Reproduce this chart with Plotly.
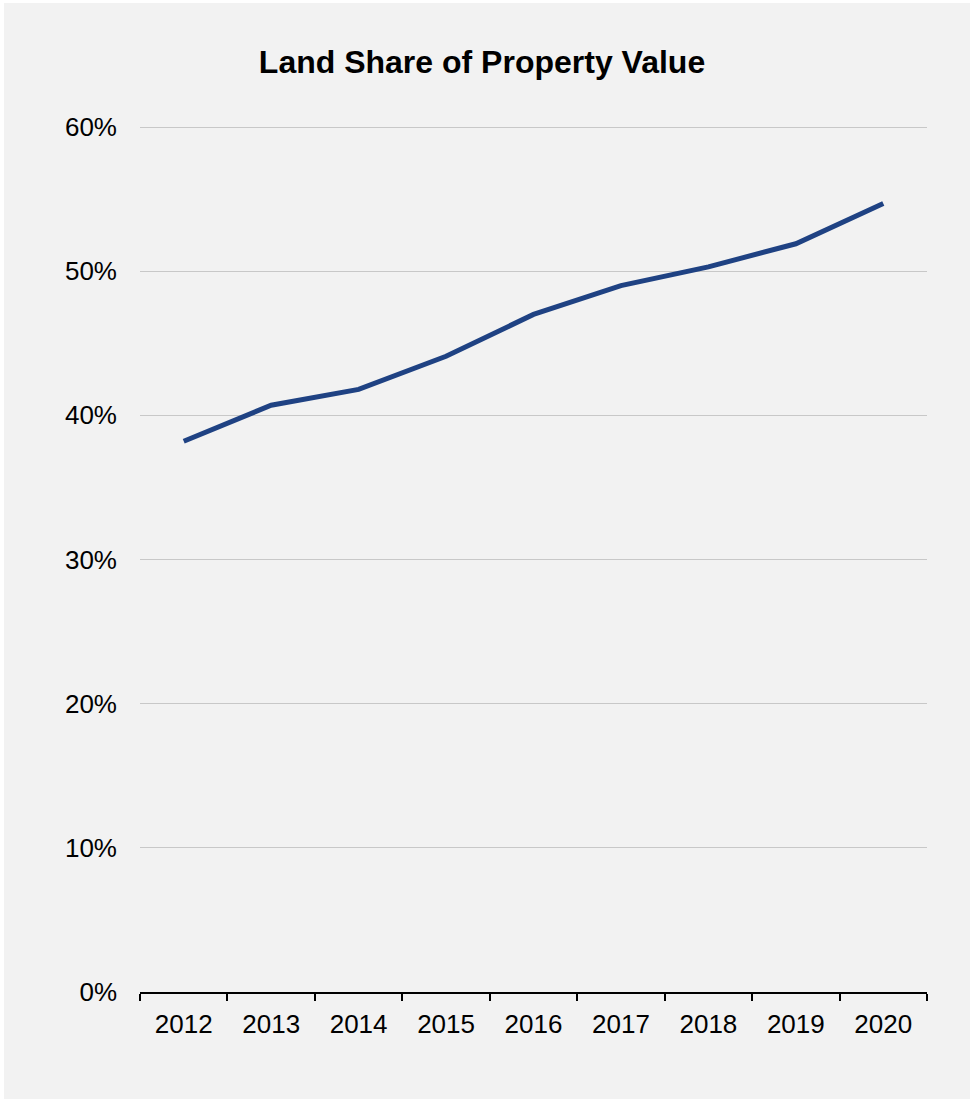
import plotly.graph_objects as go

# Land share of total property value by year
years = ["2012", "2013", "2014", "2015", "2016", "2017", "2018", "2019", "2020"]
land_share = [0.382, 0.407, 0.418, 0.441, 0.470, 0.490, 0.503, 0.519, 0.547]

y_ticks = [0, 0.1, 0.2, 0.3, 0.4, 0.5, 0.6]
y_max = 0.6

W, H = 974, 1102
ML, MR, MB = 140, 47, 110
TOP_GRID = 127        # pixel row of the top gridline
PAD = 7               # headroom above the top gridline so it is not clipped
MT = TOP_GRID - PAD
plot_w = W - ML - MR
plot_h = H - MT - MB
grid_span = H - MB - TOP_GRID
y_top = y_max * (grid_span + PAD) / grid_span


def px_to_paper_x(px):
    return (px - ML) / plot_w


def px_to_paper_y(py):
    return (H - MB - py) / plot_h


fig = go.Figure()
fig.add_trace(go.Scatter(
    x=years,
    y=land_share,
    mode="lines",
    line=dict(color="#1F4283", width=5),
    hoverinfo="x+y",
))

fig.update_layout(
    width=W,
    height=H,
    margin=dict(l=ML, r=MR, t=MT, b=MB),
    paper_bgcolor="#ffffff",
    plot_bgcolor="rgba(0,0,0,0)",
    font=dict(family="Liberation Sans, Arial, sans-serif", size=26, color="#000000"),
    title=dict(
        text="<b>Land Share of Property Value</b>",
        x=482 / W,
        xanchor="center",
        xref="container",
        y=1 - 62 / H,
        yanchor="middle",
        font=dict(size=32, color="#000000"),
    ),
    showlegend=False,
    shapes=[
        # light grey chart panel inset from the page edge
        dict(
            type="rect",
            xref="paper",
            yref="paper",
            x0=px_to_paper_x(4),
            x1=px_to_paper_x(970),
            y0=px_to_paper_y(1099),
            y1=px_to_paper_y(3),
            fillcolor="#f2f2f2",
            line=dict(width=0),
            layer="below",
        )
    ],
)

fig.update_xaxes(
    type="category",
    range=[-0.5, len(years) - 0.5],
    showgrid=False,
    showline=True,
    linecolor="#000000",
    linewidth=1.5,
    ticks="outside",
    tickson="boundaries",
    ticklen=7,
    tickwidth=1.5,
    tickcolor="#000000",
    tickfont=dict(size=26),
    ticklabelstandoff=8,
    zeroline=False,
)

fig.update_yaxes(
    range=[0, y_top],
    tickvals=y_ticks,
    tickformat=".0%",
    showgrid=True,
    gridcolor="#c8c8c8",
    gridwidth=1,
    zeroline=False,
    showline=False,
    ticks="",
    ticklabelstandoff=22,
    tickfont=dict(size=26),
)

fig.write_html("out.html")
